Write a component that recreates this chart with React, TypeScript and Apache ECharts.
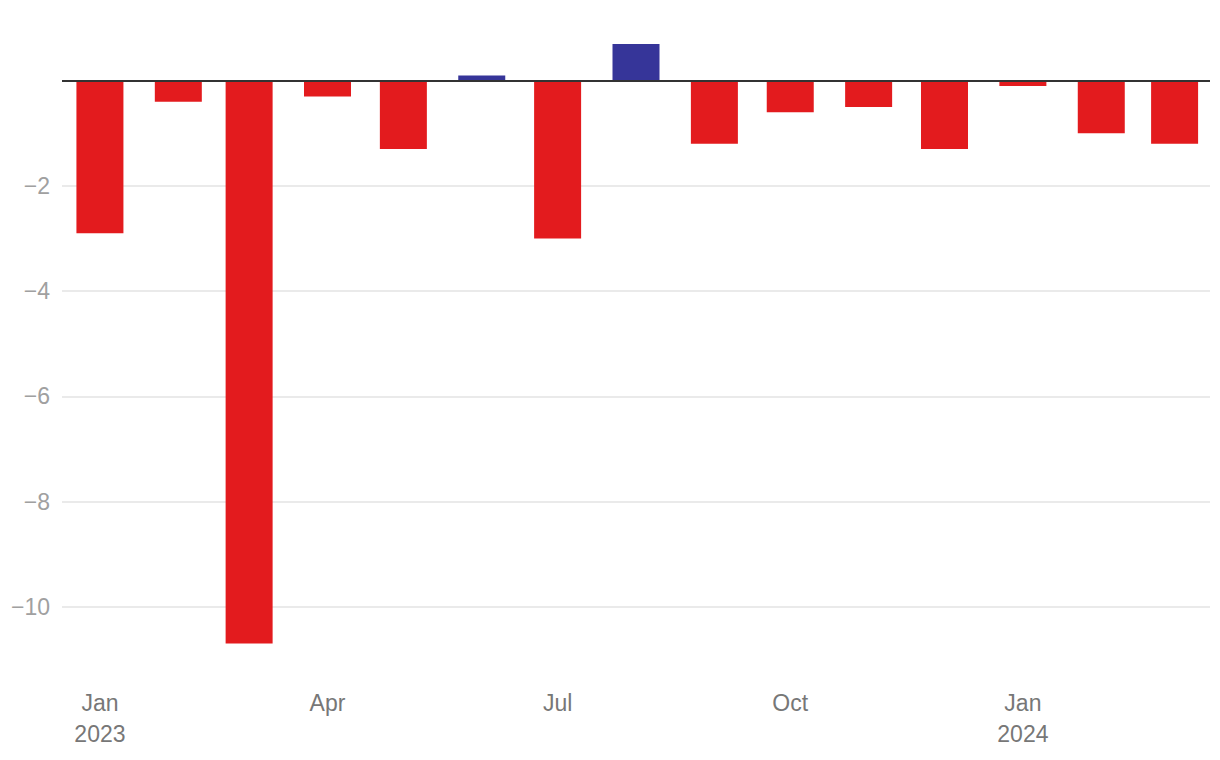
import React, { useEffect, useRef } from "react";
import * as echarts from "echarts";

const months: string[] = [
  "2023-01-01", "2023-02-01", "2023-03-01", "2023-04-01", "2023-05-01",
  "2023-06-01", "2023-07-01", "2023-08-01", "2023-09-01", "2023-10-01",
  "2023-11-01", "2023-12-01", "2024-01-01", "2024-02-01", "2024-03-01",
];
const values: number[] = [
  -2.9, -0.4, -10.7, -0.3, -1.3, 0.1, -3.0, 0.7, -1.2, -0.6, -0.5, -1.3, -0.1, -1.0, -1.2,
];
const xTickDates: string[] = ["2023-01-01", "2023-04-01", "2023-07-01", "2023-10-01", "2024-01-01"];
const yTickValues: number[] = [-10, -8, -6, -4, -2];
const monthNames: string[] = ["Jan", "Feb", "Mar", "Apr", "May", "Jun", "Jul", "Aug", "Sep", "Oct", "Nov", "Dec"];

const ts = (s: string) => {
  const [y, m, d] = s.split("-").map(Number);
  return Date.UTC(y, m - 1, d);
};

export default function App() {
  const ref = useRef<HTMLDivElement>(null);
  useEffect(() => {
    if (!ref.current) return;
    const chart = echarts.init(ref.current, undefined, { renderer: "svg" });
    const font = "'Liberation Sans', Arial, Helvetica, sans-serif";
    const xTicks = xTickDates.map(ts);
    chart.setOption({
      animation: false,
      backgroundColor: "#ffffff",
      grid: { left: 62, right: 10, top: 28.1, bottom: 100.7, containLabel: false },
      xAxis: {
        type: "value",
        min: ts("2022-12-17"),
        max: ts("2024-03-15"),
        axisLine: { show: false, onZero: false },
        axisTick: { show: false, customValues: xTicks },
        splitLine: { show: false },
        axisLabel: {
          customValues: xTicks,
          color: "#777777",
          fontSize: 23,
          fontFamily: font,
          lineHeight: 31,
          margin: 28,
          verticalAlign: "top",
          formatter: (v: number) => {
            const d = new Date(v);
            const m = d.getUTCMonth();
            return m === 0 ? monthNames[m] + "\n" + d.getUTCFullYear() : monthNames[m];
          },
        },
      },
      yAxis: {
        type: "value",
        min: -11,
        max: 1,
        axisLine: { show: false },
        axisTick: { show: false, customValues: yTickValues },
        splitLine: { show: true, lineStyle: { color: "#e3e3e3", width: 1.5 } },
        axisLabel: {
          customValues: yTickValues,
          color: "#a0a0a0",
          fontSize: 23,
          fontFamily: font,
          margin: 12,
          formatter: (v: number) => String(v).replace("-", "\u2212"),
        },
      },
      series: [
        {
          type: "bar",
          barWidth: 47,
          data: months.map((m, i) => [ts(m), values[i]]),
          itemStyle: {
            color: (p: any) => (p.value[1] < 0 ? "#e31b1e" : "#363599"),
          },
          markLine: {
            silent: true,
            symbol: ["none", "none"],
            label: { show: false },
            lineStyle: { color: "#333333", width: 2, type: "solid" },
            data: [{ yAxis: 0 }],
            z: 10,
          },
        },
      ],
    });
    return () => chart.dispose();
  }, []);
  return <div ref={ref} style={{ position: "fixed", left: 0, top: 0, width: 1220, height: 760 }} />;
}
